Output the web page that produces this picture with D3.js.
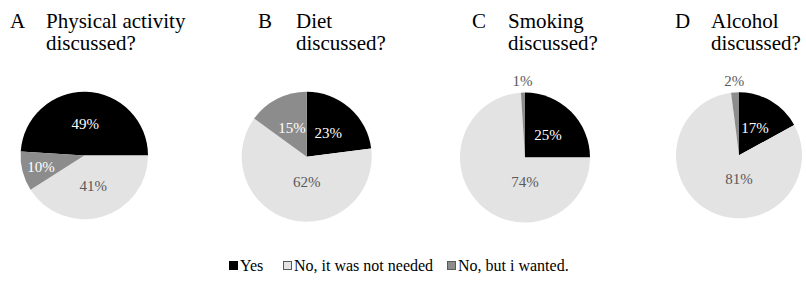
<!DOCTYPE html>
<html>
<head>
<meta charset="utf-8">
<script src="https://cdn.jsdelivr.net/npm/d3@7"></script>
<style>
  html, body { margin: 0; padding: 0; background: #fff; }
  svg text { font-family: "Liberation Serif", "Times New Roman", serif; }
</style>
</head>
<body>
<div id="chart"></div>
<script>
// data
const panelLetters = ['A', 'B', 'C', 'D'];
const panelTitles  = [['Physical activity', 'discussed?'], ['Diet', 'discussed?'], ['Smoking', 'discussed?'], ['Alcohol', 'discussed?']];
const categories   = ['Yes', 'No, it was not needed', 'No, but i wanted.'];
const yesValues    = [49, 23, 25, 17];
const notNeeded    = [41, 62, 74, 81];
const wanted       = [10, 15, 1, 2];

// layout
const W = 806, H = 289;
const centersX   = [84.3, 306.7, 525, 739];
const centersY   = [155.5, 156.7, 157.5, 155.3];
const radii      = [63.7, 65, 65, 63];
const startDeg   = [-86.4, 0, 0, 0];   // panel A is rotated
const letterX    = [10, 258, 472, 675];
const titleX     = [46, 296, 508, 711];

const fills      = ['#000000', '#e3e3e3', '#8c8c8c'];
const labelFill  = ['#ffffff', '#595959', '#ffffff'];

const svg = d3.select('#chart').append('svg')
  .attr('width', W).attr('height', H);

const pie = d3.pie().sort(null).value(d => d.v);

// where a slice's label goes (roughly the way the spreadsheet placed them)
function labelPos(d, r) {
  const v = d.data.v;
  let m = (d.startAngle + d.endAngle) / 2, rr;
  if (v < 5) {
    rr = r + 12;
  } else if (v > 50) {
    // big slice: middle of its part in the lower half
    const lo = Math.max(d.startAngle, Math.PI / 2);
    const hi = Math.min(d.endAngle, 3 * Math.PI / 2);
    m = (lo + hi) / 2;
    rr = r * 0.38;
  } else {
    rr = r * (v <= 12 ? 0.7 : 0.5);
  }
  return [rr * Math.sin(m), -rr * Math.cos(m)];
}

panelLetters.forEach((letter, i) => {
  const vals = [yesValues[i], notNeeded[i], wanted[i]].map((v, k) => ({ v, k }));
  const a0 = startDeg[i] * Math.PI / 180;
  const arcs = pie.startAngle(a0).endAngle(a0 + 2 * Math.PI)(vals);
  const r = radii[i];
  const arc = d3.arc().innerRadius(0).outerRadius(r);

  const g = svg.append('g')
    .attr('transform', `translate(${centersX[i]},${centersY[i]})`);

  g.selectAll('path')
    .data(arcs)
    .enter().append('path')
    .attr('d', arc)
    .attr('fill', d => fills[d.data.k]);

  g.selectAll('.lbl')
    .data(arcs)
    .enter().append('text')
    .attr('class', 'lbl')
    .attr('transform', d => `translate(${labelPos(d, r)})`)
    .attr('text-anchor', 'middle')
    .attr('dy', '0.35em')
    .attr('font-size', '15px')
    .attr('fill', d => d.data.v < 5 ? '#595959' : labelFill[d.data.k])
    .text(d => d.data.v + '%');

  svg.append('text')
    .attr('x', letterX[i]).attr('y', 28)
    .attr('font-size', '21px').attr('fill', '#000')
    .text(letter);

  const t = svg.append('text')
    .attr('x', titleX[i]).attr('y', 28)
    .attr('font-size', '21px').attr('fill', '#000');
  panelTitles[i].forEach((line, j) => {
    t.append('tspan').attr('x', titleX[i]).attr('dy', j === 0 ? 0 : 22).text(line);
  });
});

// legend
const legendX = [229, 283, 447];
const legend = svg.append('g');
categories.forEach((c, k) => {
  legend.append('rect')
    .attr('x', legendX[k] + 0.5).attr('y', 261.5)
    .attr('width', 8).attr('height', 8)
    .attr('fill', fills[k])
    .attr('stroke', k === 0 ? '#000' : '#595959')
    .attr('stroke-width', 1);
  legend.append('text')
    .attr('x', legendX[k] + 11).attr('y', 271)
    .attr('font-size', '16px').attr('fill', '#000')
    .text(c);
});
</script>
</body>
</html>
